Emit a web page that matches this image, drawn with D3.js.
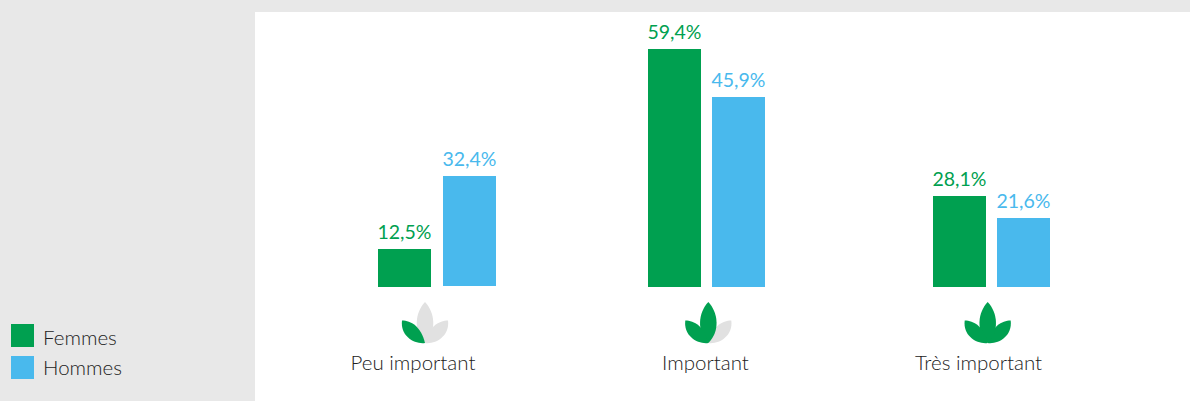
<!DOCTYPE html>
<html><head><meta charset="utf-8">
<script src="https://cdn.jsdelivr.net/npm/d3@7"></script>
<style>html,body{margin:0;padding:0;background:#e8e8e8;overflow:hidden}svg{display:block}text{font-family:Lato,"Open Sans",sans-serif}</style>
</head><body><script>
const categories = ["Peu important","Important","Très important"];
const femmes = [12.5,59.4,28.1];
const hommes = [32.4,45.9,21.6];
const filledLeaves = [1,2,3];
const seriesNames = ["Femmes","Hommes"];
const colors = {Femmes:"#00a050",Hommes:"#49b9ed"};
const W=1190,H=401,base=287,bw=53;
const svg=d3.select("body").append("svg").attr("width",W).attr("height",H);
svg.append("rect").attr("x",255).attr("y",12).attr("width",W-255).attr("height",H-12).attr("fill","#fff");
// The reference's bars are not proportional to their printed labels, so the value scale is piecewise.
const y=d3.scaleLinear().domain([0,12.5,21.6,28.1,32.4,45.9,59.4]).range([base,249,218,196,176,97,49]);
const xF=d3.scaleOrdinal().domain(categories).range([378,648,933]);
const xH=d3.scaleOrdinal().domain(categories).range([443,712,997]);
const xBar=d=>d.s==="Femmes"?xF(d.c):xH(d.c);
const fmt=v=>d3.format(".1f")(v).replace(".",",")+"%";
const rows=categories.flatMap((c,i)=>[{c,s:"Femmes",v:femmes[i]},{c,s:"Hommes",v:hommes[i]}]);
svg.selectAll("rect.b").data(rows).join("rect").attr("class","b")
 .attr("x",xBar).attr("width",bw).attr("y",d=>y(d.v))
 .attr("height",d=>base-y(d.v)-(d.s==="Hommes"&&d.c===categories[0]?1:0)).attr("fill",d=>colors[d.s]);
svg.selectAll("text.v").data(rows).join("text").attr("class","v")
 .attr("x",d=>xBar(d)+bw/2).attr("y",d=>y(d.v)-10).attr("text-anchor","middle")
 .attr("font-size",19.5).attr("fill",d=>colors[d.s]).text(d=>fmt(d.v));
const iconX=d3.scaleOrdinal().domain(categories).range([425,708.3,987.7]);
const leafC="M0,20.5 C-12,9 -10,-10 0,-20.5 C10,-10 12,9 0,20.5Z";
const leafL="M-23,-2 C-14,-2 -4,4 0,20.5 C-10,22 -25,14 -23,-2Z";
const leafR="M23,-2 C14,-2 4,4 0,20.5 C10,22 25,14 23,-2Z";
const icons=svg.selectAll("g.i").data(categories).join("g").attr("class","i").attr("transform",c=>`translate(${iconX(c)},322.5)`);
icons.each(function(c,i){const g=d3.select(this);const n=filledLeaves[i];const on="#00a050",off="#e1e1e1";
 g.append("path").attr("d",leafR).attr("fill",n>=3?on:off);
 g.append("path").attr("d",leafC).attr("fill",n>=2?on:off);
 g.append("path").attr("d",leafL).attr("fill",on);
});
const labelX=d3.scaleOrdinal().domain(categories).range([413,705.5,978.5]);
svg.selectAll("text.c").data(categories).join("text").attr("class","c").attr("x",c=>labelX(c)).attr("y",370)
 .attr("text-anchor","middle").attr("font-size",20.5).attr("font-weight",300).attr("fill","#222").text(c=>c);
const ly=d3.scaleOrdinal().domain(seriesNames).range([324,356]);
const lt=d3.scaleOrdinal().domain(seriesNames).range([345,375]);
svg.selectAll("rect.l").data(seriesNames).join("rect").attr("class","l").attr("x",11).attr("y",s=>ly(s)).attr("width",23).attr("height",23).attr("fill",s=>colors[s]);
svg.selectAll("text.l").data(seriesNames).join("text").attr("class","l").attr("x",43).attr("y",s=>lt(s)).attr("font-size",20.5).attr("font-weight",300).attr("fill","#222").text(s=>s);
</script></body></html>
